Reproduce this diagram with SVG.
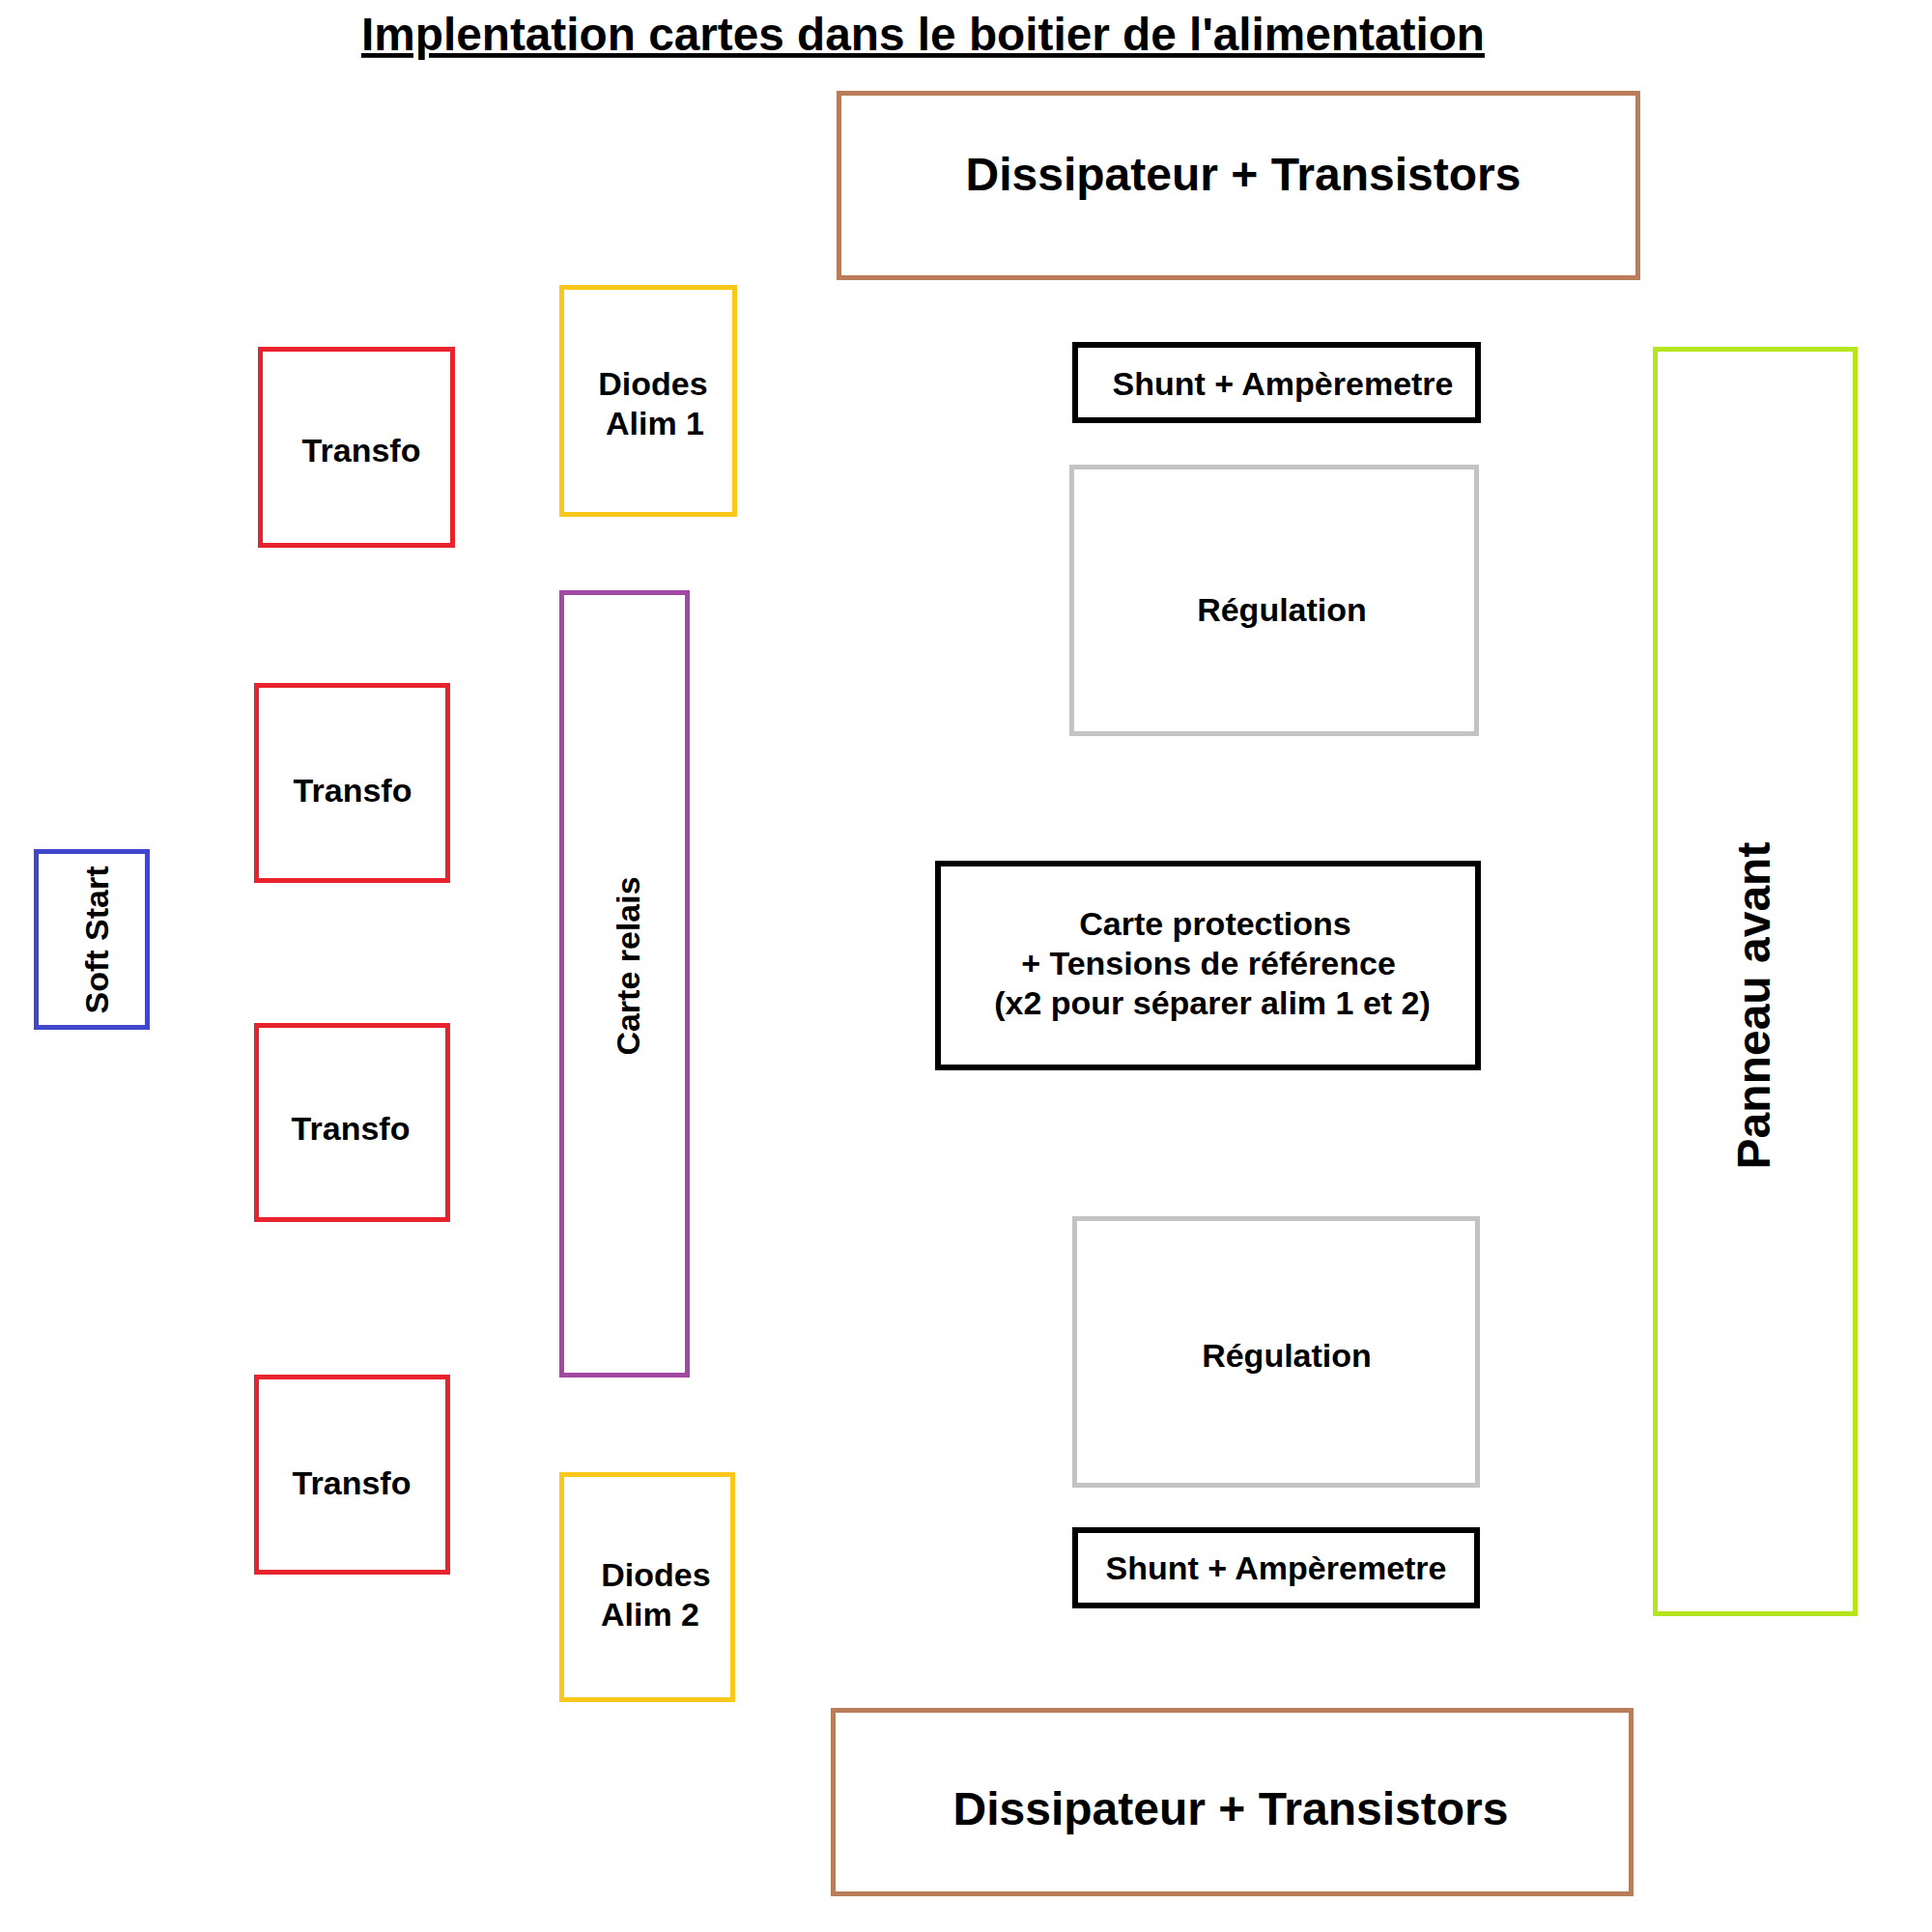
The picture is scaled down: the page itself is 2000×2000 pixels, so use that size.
<svg xmlns="http://www.w3.org/2000/svg" width="2000" height="2000" viewBox="0 0 2000 2000">
<style>
  .box { fill: none; stroke-width: 5; }
  .brown { stroke: #B97D5A; }
  .red { stroke: #E8232D; }
  .yellow { stroke: #F9C81A; }
  .purple { stroke: #A349A4; }
  .blue { stroke: #3F48CC; }
  .gray { stroke: #C3C3C3; }
  .green { stroke: #B5E61D; }
  .black { stroke: #000000; stroke-width: 6; }
  text { font-family: "Liberation Sans", Arial, sans-serif; font-weight: bold; fill: #000; }
  .t34 { font-size: 34px; text-anchor: middle; }
  .t48 { font-size: 48px; text-anchor: middle; }
</style>
<rect width="2000" height="2000" fill="#ffffff"/>
<text id="title" x="374" y="52" style="font-size:48px" text-decoration="underline" textLength="1163" lengthAdjust="spacingAndGlyphs">Implentation cartes dans le boitier de l'alimentation</text>

<g id="dissipateur-haut">
  <rect class="box brown" x="868.5" y="96.5" width="827" height="191"/>
  <text class="t48" x="1287" y="197">Dissipateur + Transistors</text>
</g>
<g id="dissipateur-bas">
  <rect class="box brown" x="862.5" y="1770.5" width="826" height="190"/>
  <text class="t48" x="1274" y="1889">Dissipateur + Transistors</text>
</g>

<g id="transfo-1">
  <rect class="box red" x="269.5" y="361.5" width="199" height="203"/>
  <text class="t34" x="374" y="478">Transfo</text>
</g>
<g id="transfo-2">
  <rect class="box red" x="265.5" y="709.5" width="198" height="202"/>
  <text class="t34" x="365" y="830">Transfo</text>
</g>
<g id="transfo-3">
  <rect class="box red" x="265.5" y="1061.5" width="198" height="201"/>
  <text class="t34" x="363" y="1180">Transfo</text>
</g>
<g id="transfo-4">
  <rect class="box red" x="265.5" y="1425.5" width="198" height="202"/>
  <text class="t34" x="364" y="1547">Transfo</text>
</g>

<g id="diodes-alim-1">
  <rect class="box yellow" x="581.5" y="297.5" width="179" height="235"/>
  <text class="t34" x="676" y="409">Diodes</text>
  <text class="t34" x="678" y="450">Alim 1</text>
</g>
<g id="diodes-alim-2">
  <rect class="box yellow" x="581.5" y="1526.5" width="177" height="233"/>
  <text class="t34" x="679" y="1642">Diodes</text>
  <text class="t34" x="673" y="1683">Alim 2</text>
</g>

<g id="carte-relais">
  <rect class="box purple" x="581.5" y="613.5" width="130" height="810"/>
  <text class="t34" transform="translate(662 1000) rotate(-90)" x="0" y="0">Carte relais</text>
</g>

<g id="soft-start">
  <rect class="box blue" x="37.5" y="881.5" width="115" height="182"/>
  <text class="t34" transform="translate(112 973) rotate(-90)" x="0" y="0">Soft Start</text>
</g>

<g id="shunt-haut">
  <rect class="box black" x="1113" y="357" width="417" height="78"/>
  <text class="t34" x="1328" y="409">Shunt + Ampèremetre</text>
</g>
<g id="regulation-haut">
  <rect class="box gray" x="1109.5" y="483.5" width="419" height="276"/>
  <text class="t34" x="1327" y="643">Régulation</text>
</g>
<g id="carte-protections">
  <rect class="box black" x="971" y="894" width="559" height="211"/>
  <text class="t34" x="1258" y="968">Carte protections</text>
  <text class="t34" x="1251" y="1009">+ Tensions de référence</text>
  <text class="t34" x="1255" y="1050">(x2 pour séparer alim 1 et 2)</text>
</g>
<g id="regulation-bas">
  <rect class="box gray" x="1112.5" y="1261.5" width="417" height="276"/>
  <text class="t34" x="1332" y="1415">Régulation</text>
</g>
<g id="shunt-bas">
  <rect class="box black" x="1113" y="1584" width="416" height="78"/>
  <text class="t34" x="1321" y="1635">Shunt + Ampèremetre</text>
</g>

<g id="panneau-avant">
  <rect class="box green" x="1713.5" y="361.5" width="207" height="1309"/>
  <text class="t48" transform="translate(1832 1041) rotate(-90)" x="0" y="0">Panneau avant</text>
</g>

<g id="connectors"></g>
</svg>
